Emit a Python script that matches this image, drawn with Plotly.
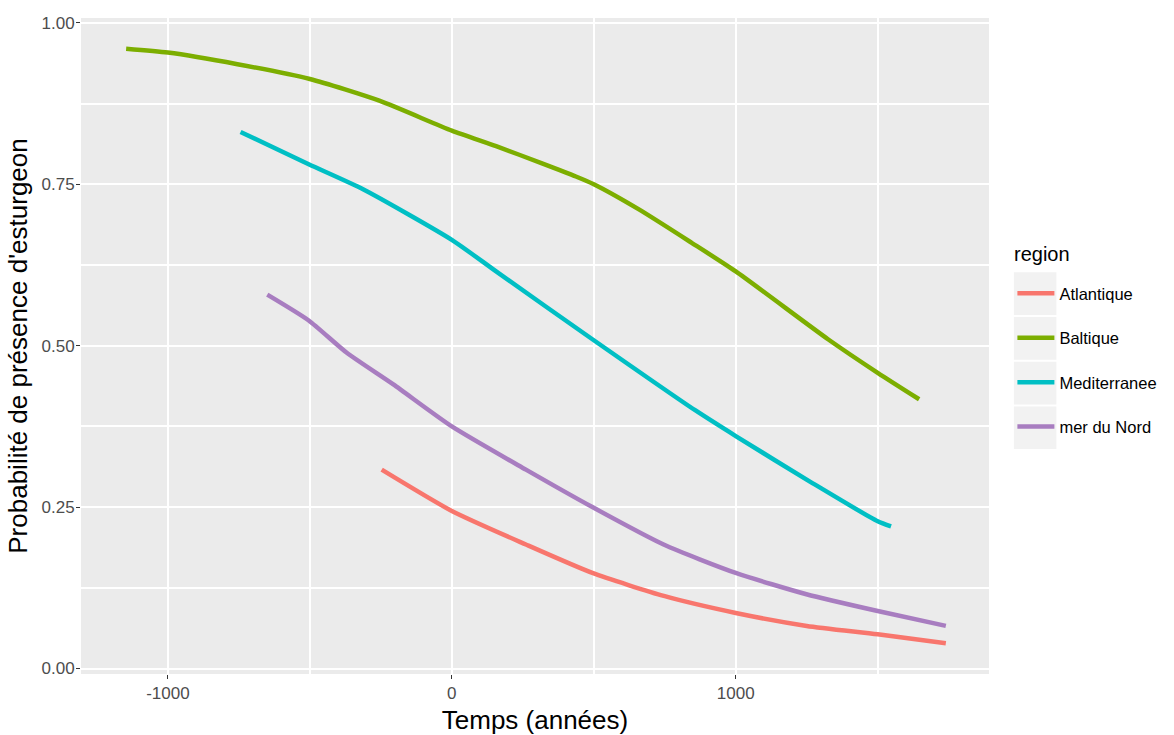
import plotly.graph_objects as go

# ---- data ----
regions = ["Atlantique", "Baltique", "Mediterranee", "mer du Nord"]

atl_x = [-247, 0, 261, 495, 750, 1000, 1250, 1500, 1740]
atl_y = [0.308, 0.244, 0.192, 0.148, 0.112, 0.086, 0.066, 0.053, 0.039]

bal_x = [-1147, -1000, -755, -500, -253, 0, 156, 320, 437, 500, 659, 846, 1000, 1325, 1500, 1646]
bal_y = [0.960, 0.954, 0.936, 0.913, 0.879, 0.833, 0.809, 0.782, 0.762, 0.750, 0.711, 0.659, 0.615, 0.510, 0.458, 0.417]

med_x = [-744, -504, -311, 0, 156, 495, 857, 1000, 1267, 1500, 1547]
med_y = [0.831, 0.781, 0.742, 0.664, 0.615, 0.510, 0.400, 0.360, 0.288, 0.228, 0.220]

nor_x = [-650, -504, -370, -206, 0, 261, 495, 746, 1000, 1249, 1500, 1740]
nor_y = [0.579, 0.539, 0.489, 0.440, 0.375, 0.308, 0.250, 0.192, 0.148, 0.115, 0.089, 0.066]

x_ticks = [-1000, 0, 1000]
x_tick_labels = ["-1000", "0", "1000"]
y_ticks = [0.0, 0.25, 0.5, 0.75, 1.0]
y_tick_labels = ["0.00", "0.25", "0.50", "0.75", "1.00"]
x_minor = [-1500, -500, 500, 1500]
y_minor = [0.125, 0.375, 0.625, 0.875]

colors = ["#F8766D", "#7CAE00", "#00BFC4", "#A87DC0"]
series = [(atl_x, atl_y), (bal_x, bal_y), (med_x, med_y), (nor_x, nor_y)]

FONT = "Liberation Sans, Arial, sans-serif"

fig = go.Figure()
for name, (xs, ys), col in zip(regions, series, colors):
    fig.add_trace(go.Scatter(
        x=xs, y=ys, mode="lines", name=name, legendgroup=name,
        line=dict(color=col, width=4.5, shape="spline", smoothing=0.6),
    ))

W, H = 1174, 735
# the photographed page is squeezed slightly in x; compensate screen -> figure px
SX, AX = 0.9888, 2.7


def fig_px(sx):
    return (sx - AX) / SX


# panel on screen: x 83..995, y 18..674
ml, mt = fig_px(83), 18
mr = W - fig_px(995)
mb = H - 674
pw, ph = W - ml - mr, H - mt - mb


def paper_x(sx):
    return (fig_px(sx) - ml) / pw


def paper_y(sy):
    return (H - mb - sy) / ph


# grey legend key backgrounds (ggplot style)
key_top = 272.3
key_size = 42.7
key_step = 44.7
key_left = 1020.0
for i in range(len(regions)):
    y0 = key_top + i * key_step
    fig.add_shape(
        type="rect", xref="paper", yref="paper",
        x0=paper_x(key_left), x1=paper_x(key_left + key_size),
        y0=paper_y(y0 + key_size), y1=paper_y(y0),
        fillcolor="#F2F2F2", line=dict(width=0), layer="below",
    )

# legend title (ggplot places it above the keys)
fig.add_annotation(
    text="region", xref="paper", yref="paper",
    x=paper_x(1018), y=paper_y(254),
    xanchor="left", yanchor="middle", showarrow=False,
    font=dict(size=20, color="black", family=FONT),
)

fig.update_layout(
    width=W, height=H, autosize=False,
    margin=dict(l=ml, r=mr, t=mt, b=mb),
    paper_bgcolor="white",
    plot_bgcolor="#EBEBEB",
    font=dict(family=FONT, color="#4D4D4D"),
    showlegend=True,
    legend=dict(
        font=dict(size=16.5, color="black", family=FONT),
        x=paper_x(1018.5), xanchor="left",
        y=paper_y(276), yanchor="top",
        bgcolor="rgba(0,0,0,0)",
        tracegroupgap=20,
        itemwidth=37,
    ),
    xaxis=dict(
        range=[-1306, 1892],
        automargin=False,
        tickmode="array", tickvals=x_ticks, ticktext=x_tick_labels,
        tickfont=dict(size=17, color="#4D4D4D"),
        ticks="outside", ticklen=4, tickcolor="#333333", tickwidth=1.2,
        showgrid=True, gridcolor="white", gridwidth=2,
        minor=dict(tickmode="array", tickvals=x_minor, showgrid=True,
                   gridcolor="white", gridwidth=1.5, ticks=""),
        zeroline=False, showline=False,
        title=dict(text="Temps (années)", font=dict(size=26, color="black"), standoff=8),
    ),
    yaxis=dict(
        range=[-0.0085, 1.0075],
        automargin=False,
        tickmode="array", tickvals=y_ticks, ticktext=y_tick_labels,
        tickfont=dict(size=17, color="#4D4D4D"),
        ticks="outside", ticklen=4, tickcolor="#333333", tickwidth=1.2,
        ticklabelstandoff=-2,
        showgrid=True, gridcolor="white", gridwidth=2,
        minor=dict(tickmode="array", tickvals=y_minor, showgrid=True,
                   gridcolor="white", gridwidth=1.5, ticks=""),
        zeroline=False, showline=False,
        title=dict(text="Probabilité de présence d'esturgeon", font=dict(size=26, color="black"), standoff=6),
    ),
)

# remove the default page margin so the figure fills the 1174x735 window exactly
fig.write_html(
    "out.html",
    config={"responsive": False, "displayModeBar": False},
    post_script="document.body.style.margin='0px';document.documentElement.style.overflow='hidden';",
)
